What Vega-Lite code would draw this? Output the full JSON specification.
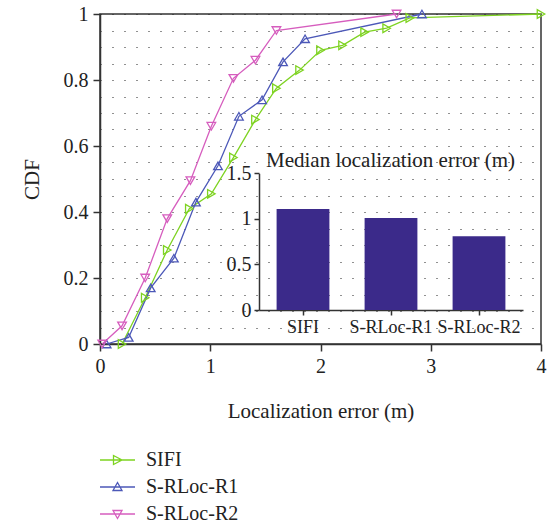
{
  "$schema": "https://vega.github.io/schema/vega-lite/v6.json",
  "autosize": {"type": "none"},
  "width": 441,
  "height": 330,
  "padding": {"left": 100, "top": 14, "right": 8, "bottom": 185},
  "background": "white",
  "config": {
    "font": "Liberation Serif",
    "view": {"stroke": "#333", "strokeWidth": 1.5},
    "axis": {"domainColor": "#333", "domainWidth": 1.5, "tickColor": "#333", "tickWidth": 1.5, "labelColor": "#222", "titleColor": "#222", "labelFontSize": 20, "titleFontSize": 21, "titleFontWeight": "normal", "labelFont": "Liberation Serif", "titleFont": "Liberation Serif"},
    "legend": {"labelFont": "Liberation Serif", "labelColor": "#222"}
  },
  "datasets": {
    "cdf": [
      {"series": "SIFI", "x": 0.2, "y": 0.0},
      {"series": "SIFI", "x": 0.41, "y": 0.14},
      {"series": "SIFI", "x": 0.61, "y": 0.285},
      {"series": "SIFI", "x": 0.81, "y": 0.41},
      {"series": "SIFI", "x": 1.01, "y": 0.455},
      {"series": "SIFI", "x": 1.21, "y": 0.565},
      {"series": "SIFI", "x": 1.41, "y": 0.68},
      {"series": "SIFI", "x": 1.6, "y": 0.775},
      {"series": "SIFI", "x": 1.81, "y": 0.83},
      {"series": "SIFI", "x": 2.0, "y": 0.89},
      {"series": "SIFI", "x": 2.2, "y": 0.905},
      {"series": "SIFI", "x": 2.4, "y": 0.945},
      {"series": "SIFI", "x": 2.6, "y": 0.957},
      {"series": "SIFI", "x": 2.81, "y": 0.988},
      {"series": "SIFI", "x": 4.0, "y": 1.0},
      {"series": "S-RLoc-R1", "x": 0.06, "y": 0.0},
      {"series": "S-RLoc-R1", "x": 0.26, "y": 0.02},
      {"series": "S-RLoc-R1", "x": 0.46, "y": 0.17},
      {"series": "S-RLoc-R1", "x": 0.67, "y": 0.26},
      {"series": "S-RLoc-R1", "x": 0.87, "y": 0.43},
      {"series": "S-RLoc-R1", "x": 1.07, "y": 0.54},
      {"series": "S-RLoc-R1", "x": 1.26, "y": 0.69},
      {"series": "S-RLoc-R1", "x": 1.47, "y": 0.74},
      {"series": "S-RLoc-R1", "x": 1.66, "y": 0.855},
      {"series": "S-RLoc-R1", "x": 1.86, "y": 0.925},
      {"series": "S-RLoc-R1", "x": 2.92, "y": 1.0},
      {"series": "S-RLoc-R2", "x": 0.02, "y": 0.0},
      {"series": "S-RLoc-R2", "x": 0.2, "y": 0.055},
      {"series": "S-RLoc-R2", "x": 0.41, "y": 0.2},
      {"series": "S-RLoc-R2", "x": 0.61, "y": 0.38},
      {"series": "S-RLoc-R2", "x": 0.82, "y": 0.495},
      {"series": "S-RLoc-R2", "x": 1.01, "y": 0.66},
      {"series": "S-RLoc-R2", "x": 1.21, "y": 0.805},
      {"series": "S-RLoc-R2", "x": 1.41, "y": 0.86},
      {"series": "S-RLoc-R2", "x": 1.6, "y": 0.95},
      {"series": "S-RLoc-R2", "x": 2.69, "y": 1.0}
    ],
    "median": [
      {"method": "SIFI", "error": 1.108},
      {"method": "S-RLoc-R1", "error": 1.01},
      {"method": "S-RLoc-R2", "error": 0.81}
    ]
  },
  "layer": [
    {
      "data": {"name": "cdf"},
      "encoding": {
        "x": {"field": "x", "type": "quantitative", "scale": {"domain": [0, 4], "nice": false},
          "axis": {"values": [0, 1, 2, 3, 4], "grid": false, "tickSize": 7, "labelPadding": 5, "labelFlush": false, "format": "d", "title": "Localization error (m)", "titleY": 56, "titleBaseline": "top"}},
        "y": {"field": "y", "type": "quantitative", "scale": {"domain": [0, 1], "nice": false},
          "axis": {"values": [0, 0.05, 0.1, 0.15, 0.2, 0.25, 0.3, 0.35, 0.4, 0.45, 0.5, 0.55, 0.6, 0.65, 0.7, 0.75, 0.8, 0.85, 0.9, 0.95, 1.0],
            "labelExpr": "abs(round(datum.value*5) - datum.value*5) < 0.001 ? format(datum.value, '~g') : ''",
            "labelOverlap": false, "labelFlush": false,
            "tickOpacity": {"condition": {"test": "abs(round(datum.value*5) - datum.value*5) < 0.001", "value": 1}, "value": 0},
            "tickSize": 7, "labelPadding": 5,
            "grid": true, "gridDash": [1, 11], "gridColor": "#222", "gridWidth": 1.2,
            "title": "CDF", "titleX": -68, "titleY": 165, "titleAlign": "center", "titleBaseline": "middle"}}
      },
      "layer": [
        {
          "mark": {"type": "line", "strokeWidth": 1.3},
          "encoding": {
            "color": {"field": "series", "type": "nominal",
              "scale": {"domain": ["SIFI", "S-RLoc-R1", "S-RLoc-R2"], "range": ["#7ED321", "#4C58B8", "#D65DBE"]},
              "legend": {"title": null, "orient": "none", "legendX": 7.5, "legendY": 436, "direction": "vertical",
                "symbolSize": 100, "symbolStrokeWidth": 1.3, "labelFontSize": 20, "labelOffset": 18.5, "rowPadding": 7}}
          }
        },
        {
          "transform": [{"filter": "datum.series === 'SIFI'"}],
          "mark": {"type": "point", "filled": false, "size": 75, "strokeWidth": 1.3, "opacity": 1, "shape": "triangle-right", "color": "#7ED321"}
        },
        {
          "transform": [{"filter": "datum.series === 'S-RLoc-R1'"}],
          "mark": {"type": "point", "filled": false, "size": 75, "strokeWidth": 1.3, "opacity": 1, "shape": "triangle-up", "color": "#4C58B8"}
        },
        {
          "transform": [{"filter": "datum.series === 'S-RLoc-R2'"}],
          "mark": {"type": "point", "filled": false, "size": 75, "strokeWidth": 1.3, "opacity": 1, "shape": "triangle-down", "color": "#D65DBE"}
        },
        {
          "transform": [{"filter": "datum.x < 0"}],
          "mark": {"type": "point", "filled": false, "size": 75, "strokeWidth": 1.3, "opacity": 1},
          "encoding": {
            "color": {"field": "series", "type": "nominal",
              "scale": {"domain": ["SIFI", "S-RLoc-R1", "S-RLoc-R2"], "range": ["#7ED321", "#4C58B8", "#D65DBE"]},
              "legend": {"title": null, "orient": "none", "legendX": 7.5, "legendY": 436, "direction": "vertical",
                "symbolSize": 100, "symbolStrokeWidth": 1.3, "labelFontSize": 20, "labelOffset": 18.5, "rowPadding": 7}},
            "shape": {"field": "series", "type": "nominal",
              "scale": {"domain": ["SIFI", "S-RLoc-R1", "S-RLoc-R2"], "range": ["M-3.5,0H3.5M-0.8,-0.9L0.9,0L-0.8,0.9Z", "M-3.5,0H3.5M0,-0.9L0.9,0.7L-0.9,0.7Z", "M-3.5,0H3.5M0,0.9L0.9,-0.7L-0.9,-0.7Z"]},
              "legend": {"title": null, "orient": "none", "legendX": 7.5, "legendY": 436, "direction": "vertical",
                "symbolSize": 100, "symbolStrokeWidth": 1.3, "labelFontSize": 20, "labelOffset": 18.5, "rowPadding": 7}}
          }
        }
      ]
    },
    {
      "data": {"name": "median"},
      "mark": {"type": "bar", "color": "#3B2A8A"},
      "encoding": {
        "x": {"field": "method", "type": "nominal", "sort": null,
          "scale": {"range": [159, 423], "paddingInner": 0.4, "paddingOuter": 0.2},
          "axis": {"orient": "bottom", "offset": -34, "title": null, "labelAngle": 0, "labelFontSize": 18, "tickSize": 5, "labelPadding": 3, "grid": false}},
        "y": {"field": "error", "type": "quantitative",
          "scale": {"domain": [0, 1.5], "nice": false, "range": [296, 159.3]},
          "axis": {"orient": "left", "offset": -159, "values": [0, 0.5, 1, 1.5], "format": "~g", "tickSize": 5, "labelPadding": 3, "grid": false, "labelFlush": false,
            "title": "Median localization error (m)", "titleAngle": 0, "titleX": 131, "titleY": 146, "titleAlign": "center", "titleBaseline": "middle", "titleFontSize": 21}}
      }
    }
  ],
  "resolve": {"scale": {"x": "independent", "y": "independent"}, "axis": {"x": "independent", "y": "independent"}}
}
